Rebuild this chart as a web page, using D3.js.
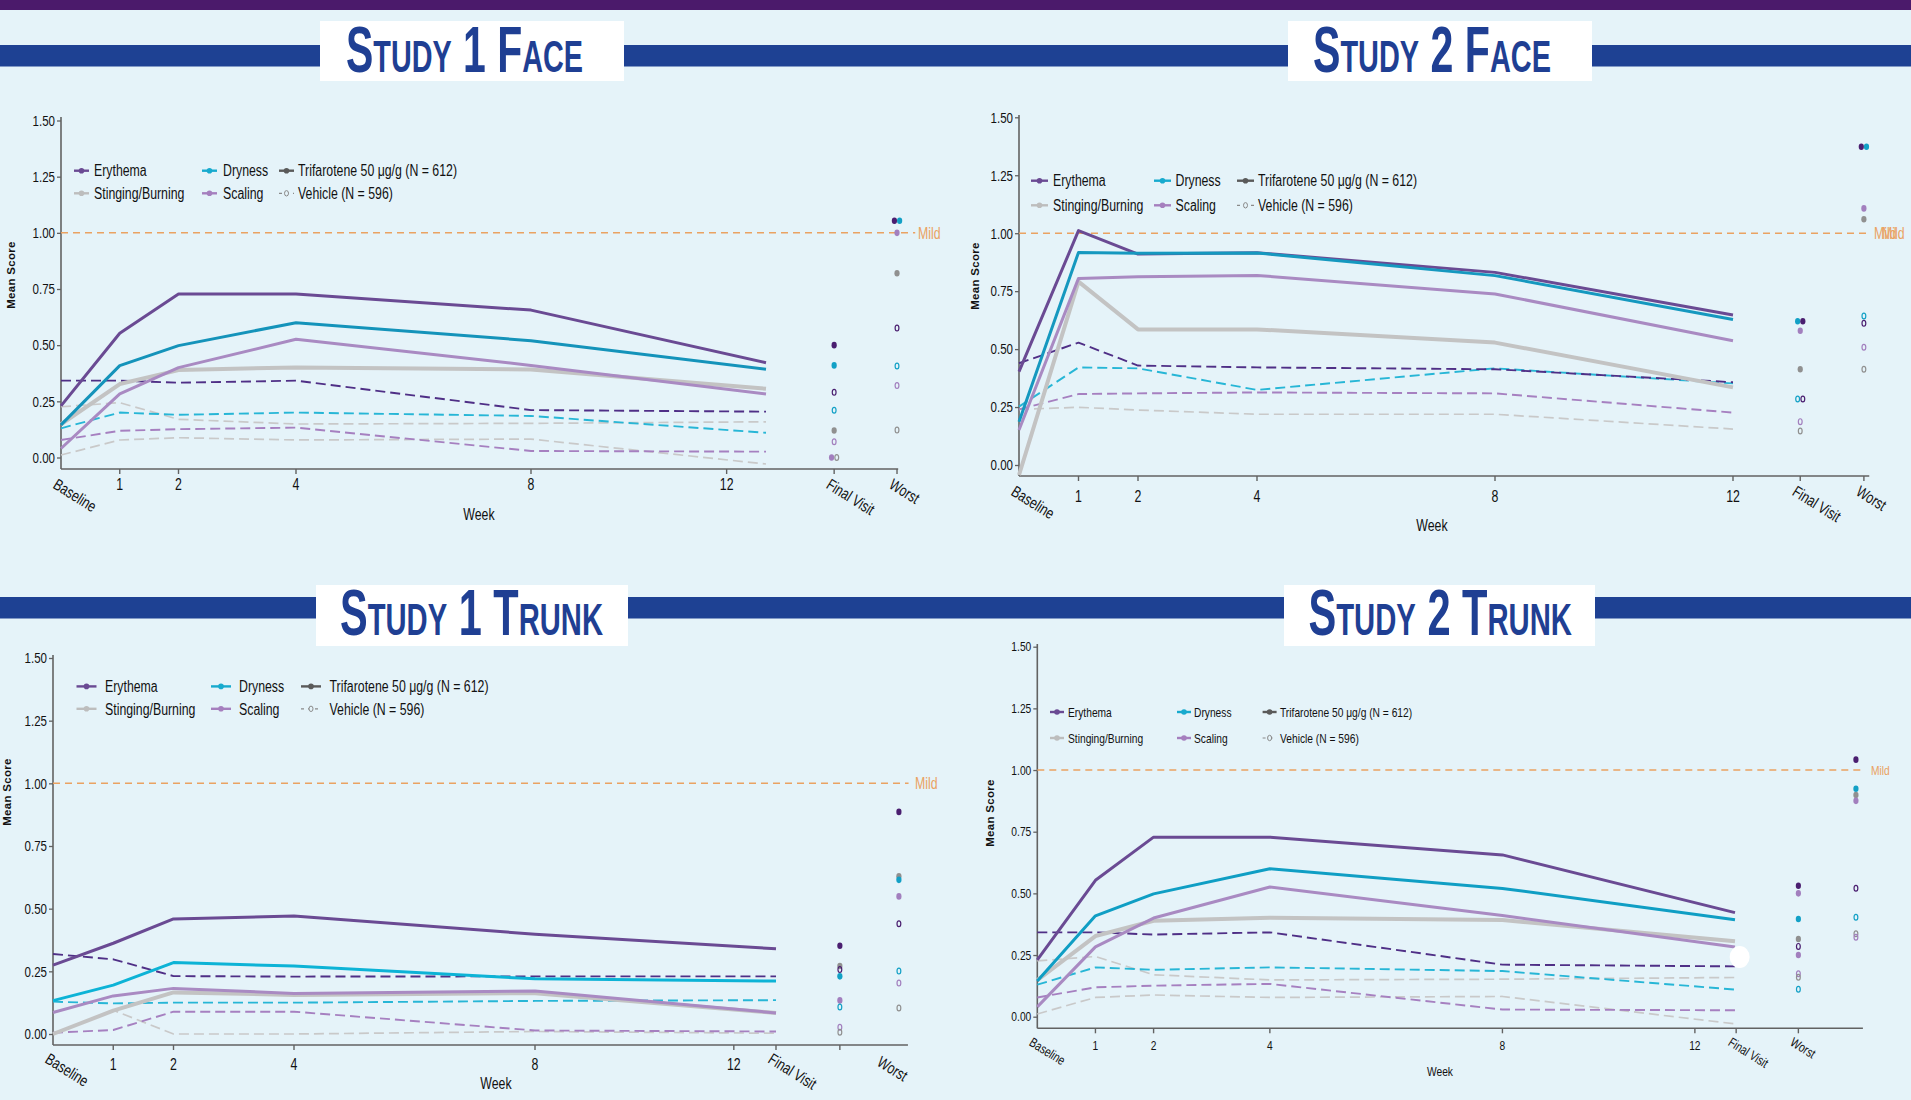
<!DOCTYPE html>
<html>
<head>
<meta charset="utf-8">
<title>Local tolerability</title>
<script src="https://cdn.jsdelivr.net/npm/d3@7"></script>
<style>
  body { margin: 0; background: #e5f3f9; }
  svg { display: block; }
  text { font-family: "Liberation Sans", Arial, sans-serif; fill: #111; }
</style>
</head>
<body>
<svg id="chart" width="1911" height="1100"></svg>
<script>
// ---- data ----
var weeks = [0, 1, 2, 4, 8, 12];
var yTicks = [0, 0.25, 0.5, 0.75, 1, 1.25, 1.5];

// Study 1 Face (the Study 2 Trunk panel repeats the same curves)
var triErythemaA = [0.23, 0.553, 0.728, 0.728, 0.656, 0.422];
var triStingingA = [0.148, 0.327, 0.389, 0.401, 0.392, 0.306];
var triDrynessA  = [0.145, 0.409, 0.498, 0.600, 0.520, 0.393];
var triScalingA  = [0.040, 0.283, 0.400, 0.526, 0.410, 0.283];
var vehErythemaA = [0.342, 0.342, 0.333, 0.342, 0.211, 0.204];
var vehStingingA = [0.226, 0.244, 0.170, 0.149, 0.152, 0.159];
var vehDrynessA  = [0.130, 0.200, 0.190, 0.200, 0.185, 0.110];
var vehScalingA  = [0.078, 0.119, 0.126, 0.133, 0.029, 0.026];
var vehGreyLowA  = [0.011, 0.078, 0.088, 0.078, 0.082, -0.029];

// Study 2 Face
var triErythemaB = [0.403, 1.011, 0.910, 0.916, 0.831, 0.647];
var triStingingB = [-0.043, 0.791, 0.585, 0.585, 0.528, 0.335];
var triDrynessB  = [0.187, 0.917, 0.913, 0.915, 0.817, 0.628];
var triScalingB  = [0.151, 0.805, 0.812, 0.818, 0.738, 0.536];
var vehErythemaB = [0.439, 0.528, 0.429, 0.421, 0.413, 0.357];
var vehStingingB = [0.240, 0.249, 0.237, 0.219, 0.219, 0.155];
var vehDrynessB  = [0.252, 0.421, 0.417, 0.324, 0.417, 0.352];
var vehScalingB  = [0.240, 0.306, 0.309, 0.313, 0.309, 0.226];

// Study 1 Trunk
var triErythemaC = [0.275, 0.362, 0.459, 0.471, 0.398, 0.340];
var triStingingC = [0.000, 0.093, 0.166, 0.156, 0.163, 0.084];
var triDrynessC  = [0.133, 0.195, 0.285, 0.271, 0.220, 0.211];
var triScalingC  = [0.086, 0.152, 0.182, 0.162, 0.172, 0.084];
var vehErythemaC = [0.319, 0.298, 0.231, 0.229, 0.230, 0.230];
var vehStingingC = [0.000, 0.095, 0.000, 0.000, 0.010, 0.003];
var vehDrynessC  = [0.129, 0.122, 0.125, 0.125, 0.132, 0.135];
var vehScalingC  = [0.005, 0.016, 0.089, 0.089, 0.014, 0.010];

// single-point columns: [category, arm (T = trifarotene, V = vehicle), mean score]
var s1fFinal = [["Erythema","T",0.50],["Dryness","T",0.41],["Erythema","V",0.29],["Dryness","V",0.21],
  ["Stinging/Burning","T",0.12],["Scaling","V",0.07],["Scaling","T",0.0],["Stinging/Burning","V",0.0]];
var s1fWorst = [["Erythema","T",1.054],["Dryness","T",1.054],["Scaling","T",1.0],["Stinging/Burning","T",0.82],
  ["Erythema","V",0.576],["Dryness","V",0.407],["Scaling","V",0.32],["Stinging/Burning","V",0.122]];
var s2fFinal = [["Dryness","T",0.62],["Erythema","T",0.62],["Scaling","T",0.579],["Stinging/Burning","T",0.413],
  ["Dryness","V",0.285],["Erythema","V",0.285],["Scaling","V",0.187],["Stinging/Burning","V",0.147]];
var s2fWorst = [["Erythema","T",1.373],["Dryness","T",1.373],["Scaling","T",1.107],["Stinging/Burning","T",1.06],
  ["Dryness","V",0.643],["Erythema","V",0.611],["Scaling","V",0.508],["Stinging/Burning","V",0.413]];
var s1tFinal = [["Erythema","T",0.352],["Stinging/Burning","T",0.271],["Erythema","V",0.257],["Dryness","T",0.23],
  ["Scaling","T",0.134],["Dryness","V",0.108],["Scaling","V",0.027],["Stinging/Burning","V",0.007]];
var s1tWorst = [["Erythema","T",0.886],["Stinging/Burning","T",0.629],["Dryness","T",0.615],["Scaling","T",0.549],
  ["Erythema","V",0.44],["Dryness","V",0.251],["Scaling","V",0.203],["Stinging/Burning","V",0.104]];
var s2tFirst = [["Erythema","T",0.531],["Scaling","T",0.50],["Dryness","T",0.396],["Stinging/Burning","T",0.315],
  ["Erythema","V",0.285],["Scaling","T",0.25],["Scaling","V",0.174],["Stinging/Burning","V",0.16],["Dryness","V",0.111]];
var s2tSecond = [["Erythema","T",1.042],["Dryness","T",0.924],["Stinging/Burning","T",0.899],["Scaling","T",0.875],
  ["Erythema","V",0.521],["Dryness","V",0.403],["Stinging/Burning","V",0.336],["Scaling","V",0.322]];

var linesA = [["Stinging/Burning","V",vehGreyLowA],["Stinging/Burning","V",vehStingingA],["Scaling","V",vehScalingA],
  ["Dryness","V",vehDrynessA],["Erythema","V",vehErythemaA],
  ["Stinging/Burning","T",triStingingA],["Scaling","T",triScalingA],["Erythema","T",triErythemaA],["Dryness","T",triDrynessA]];
var linesB = [["Stinging/Burning","V",vehStingingB],["Scaling","V",vehScalingB],["Dryness","V",vehDrynessB],["Erythema","V",vehErythemaB],
  ["Stinging/Burning","T",triStingingB],["Scaling","T",triScalingB],["Erythema","T",triErythemaB],["Dryness","T",triDrynessB]];
var linesC = [["Stinging/Burning","V",vehStingingC],["Scaling","V",vehScalingC],["Dryness","V",vehDrynessC],["Erythema","V",vehErythemaC],
  ["Stinging/Burning","T",triStingingC],["Scaling","T",triScalingC],["Dryness","T",triDrynessC],["Erythema","T",triErythemaC]];

// ---- styles ----
var triColor = { "Erythema": "#6a4a93", "Stinging/Burning": "#c3c3c3", "Dryness": "#1493ba", "Scaling": "#a98ac2" };
var vehColor = { "Erythema": "#4f2f86", "Stinging/Burning": "#c9c9c9", "Dryness": "#27b6d6", "Scaling": "#a680c0" };
var dotColor = { "Erythema": "#4a1e70", "Stinging/Burning": "#909090", "Dryness": "#12a0c6", "Scaling": "#a27fbe" };
var axisColor = "#626262";
var mildColor = "#eaa262";
var narrow = 0.77;   // squeeze factor that turns the regular face into a condensed one

function ticksStd(extra) {
  return [{w:0, label:"Baseline", rot:true, mark:false}, {w:1, label:"1"}, {w:2, label:"2"},
          {w:4, label:"4"}, {w:8, label:"8"}].concat(extra);
}

var panels = [
  { title:"Study 1 Face", box:[320,21,304,60], titleX:346, titleW:237, titleY:72,
    x0:61, x12:766, y0:457.5, y150:120.5, yTop:117, axisY:469, xEnd:14.25,
    mildEnd:14.54, mildText:[918], numDy:21, rotDy:18.5,
    ticks: ticksStd([{w:11.33,label:"12"},{w:13.16,label:"Final Visit",rot:true},{w:14.23,label:"Worst",rot:true}]),
    cols:[13.16,14.23], dots:[s1fFinal,s1fWorst], lines:linesA, dryColor:"#1493ba",
    legend:{rows:[170.7,193.3], markX:[74,202,279], textX:[94,223,298], len:15, font:16},
    yTitle:[11,275], week:[479,519.5], font:16, tickFont:15 },
  { title:"Study 2 Face", box:[1288,21,304,60], titleX:1313, titleW:238, titleY:72,
    x0:1019, x12:1733, y0:465, y150:117.3, yTop:115, axisY:476, xEnd:14.29,
    mildEnd:14.29, mildText:[1874,1882], numDy:25.5, rotDy:18.5,
    ticks: ticksStd([{w:12,label:"12"},{w:13.13,label:"Final Visit",rot:true},{w:14.2,label:"Worst",rot:true}]),
    cols:[13.13,14.2], dots:[s2fFinal,s2fWorst], lines:linesB, dryColor:"#1598bf",
    legend:{rows:[180.7,205.3], markX:[1031,1154,1237], textX:[1053,1175.5,1258], len:17, font:16},
    yTitle:[975,276], week:[1432,530.5], font:16, tickFont:15 },
  { title:"Study 1 Trunk", box:[316,585,312,61], titleX:340, titleW:263, titleY:635,
    x0:53, x12:776, y0:1034, y150:658, yTop:655, axisY:1045, xEnd:14.19,
    mildEnd:14.2, mildText:[915], numDy:24.6, rotDy:17,
    ticks: ticksStd([{w:11.3,label:"12"},{w:12,label:"Final Visit",rot:true},{w:13.06,label:""},
                     {w:13.81,label:"Worst",rot:true,mark:false,dy:3}]),
    cols:[13.06,14.04], dots:[s1tFinal,s1tWorst], lines:linesC, dryColor:"#0db3d6",
    legend:{rows:[686.4,708.8], markX:[76.5,211,301], textX:[105,239,329.5], len:20, font:16},
    yTitle:[7,792], week:[496,1088.5], font:16, tickFont:15 },
  { title:"Study 2 Trunk", box:[1284,585,311,61], titleX:1308.5, titleW:263.5, titleY:635,
    x0:1037.3, x12:1735, y0:1016.7, y150:646.7, yTop:644, axisY:1028.3, xEnd:14.2,
    mildEnd:14.2, mildText:[1871], numDy:21.4, rotDy:16.5,
    ticks: ticksStd([{w:11.31,label:"12"},{w:12.02,label:"Final Visit",rot:true},{w:13.09,label:"Worst",rot:true}]),
    cols:[13.09,14.08], dots:[s2tFirst,s2tSecond], lines:linesA, dryColor:"#0f9ec4",
    legend:{rows:[712,738], markX:[1050,1177,1262.6], textX:[1068,1194,1280], len:14, font:13.3},
    yTitle:[990,813], week:[1440,1075.5], font:13.3, tickFont:13.3, blob:[12.08,0.242] }
];

// ---- page furniture ----
var svg = d3.select("#chart");
svg.append("rect").attr("width", 1911).attr("height", 1100).attr("fill", "#e5f3f9");
svg.append("rect").attr("width", 1911).attr("height", 10).attr("fill", "#4b1a6b");
[45, 597].forEach(function(b) {
  svg.append("rect").attr("x", 0).attr("y", b).attr("width", 1911).attr("height", 21.5).attr("fill", "#1e4193");
});

panels.forEach(drawPanel);

// condense every label that the reference sets in a narrow face
svg.selectAll("text.cond").each(function() {
  var w = this.getComputedTextLength();
  if (w > 0) d3.select(this).attr("textLength", w * narrow).attr("lengthAdjust", "spacingAndGlyphs");
});

function drawPanel(p) {
  var g = svg.append("g");
  var x = d3.scaleLinear().domain([0, 12]).range([p.x0, p.x12]);
  var y = d3.scaleLinear().domain([0, 1.5]).range([p.y0, p.y150]);

  // title box
  g.append("rect").attr("x", p.box[0]).attr("y", p.box[1]).attr("width", p.box[2]).attr("height", p.box[3]).attr("fill", "#fff");
  var t = g.append("text").attr("x", p.titleX).attr("y", p.titleY)
    .attr("font-weight", "bold").style("fill", "#1f3f93")
    .attr("textLength", p.titleW).attr("lengthAdjust", "spacingAndGlyphs");
  p.title.split(" ").forEach(function(word, i) {
    t.append("tspan").attr("font-size", 64).text((i > 0 ? " " : "") + word[0].toUpperCase());
    if (word.length > 1) t.append("tspan").attr("font-size", 45).text(word.slice(1).toUpperCase());
  });

  // axes
  var yAx = g.append("g").attr("transform", "translate(" + p.x0 + ",0)")
    .call(d3.axisLeft(y).tickValues(yTicks).tickFormat(d3.format(".2f")).tickSize(4).tickPadding(2));
  yAx.select(".domain").remove();
  yAx.selectAll("line").attr("stroke", axisColor).attr("stroke-width", 1.3);
  yAx.selectAll("text").attr("font-size", p.tickFont).attr("font-family", null).style("fill", "#111")
    .classed("cond", true);

  g.append("line").attr("x1", p.x0).attr("x2", p.x0).attr("y1", p.yTop).attr("y2", p.axisY)
    .attr("stroke", axisColor).attr("stroke-width", 1.6);
  g.append("line").attr("x1", p.x0).attr("x2", x(p.xEnd)).attr("y1", p.axisY).attr("y2", p.axisY)
    .attr("stroke", axisColor).attr("stroke-width", 1.6);

  p.ticks.forEach(function(tk) {
    var tx = x(tk.w);
    if (tk.mark !== false) {
      g.append("line").attr("x1", tx).attr("x2", tx).attr("y1", p.axisY).attr("y2", p.axisY + 5)
        .attr("stroke", axisColor).attr("stroke-width", 1.4);
    }
    if (!tk.label) return;
    if (tk.rot) {
      g.append("text").attr("class", "cond").attr("font-size", p.font)
        .attr("transform", "translate(" + (tx - 9) + "," + (p.axisY + p.rotDy + (tk.dy || 0)) + ") rotate(32)")
        .text(tk.label);
    } else {
      g.append("text").attr("class", "cond").attr("x", tx).attr("y", p.axisY + p.numDy).attr("text-anchor", "middle")
        .attr("font-size", p.font).text(tk.label);
    }
  });

  g.append("text").attr("class", "cond").attr("x", p.week[0]).attr("y", p.week[1]).attr("text-anchor", "middle")
    .attr("font-size", p.font).text("Week");
  g.append("text").attr("transform", "translate(" + p.yTitle[0] + "," + p.yTitle[1] + ") rotate(-90)")
    .attr("text-anchor", "middle").attr("dy", "0.35em").attr("font-weight", "bold")
    .attr("font-size", 11.5).attr("letter-spacing", 0.3).text("Mean Score");

  // mild reference
  g.append("line").attr("x1", p.x0).attr("x2", x(p.mildEnd)).attr("y1", y(1)).attr("y2", y(1))
    .attr("stroke", mildColor).attr("stroke-width", 1.5).attr("stroke-dasharray", "7,5");
  p.mildText.forEach(function(mx) {
    g.append("text").attr("class", "cond").attr("x", mx).attr("y", y(1)).attr("dy", "0.36em").attr("font-size", p.font)
      .style("fill", mildColor).text("Mild");
  });

  // series
  var line = d3.line().x(function(d, i) { return x(weeks[i]); }).y(function(d) { return y(d); });
  p.lines.forEach(function(s) {
    var cat = s[0], arm = s[1];
    var col = arm === "T" ? (cat === "Dryness" ? p.dryColor : triColor[cat]) : vehColor[cat];
    var path = g.append("path").datum(s[2]).attr("d", line).attr("fill", "none")
      .attr("stroke", col).attr("stroke-linejoin", "round");
    if (arm === "T") {
      path.attr("stroke-width", cat === "Stinging/Burning" ? 4 : 3);
    } else {
      path.attr("stroke-width", cat === "Stinging/Burning" ? 1.7 : 1.9).attr("stroke-dasharray", "10,5");
    }
  });

  // final visit / worst columns
  p.cols.forEach(function(cw, ci) {
    var list = p.dots[ci].map(function(d) { return { cat: d[0], arm: d[1], cy: y(d[2]), dx: 0 }; });
    list.sort(function(a, b) { return a.cy - b.cy; });
    for (var i = 1; i < list.length; i++) {
      if (Math.abs(list[i].cy - list[i - 1].cy) < 2.5) { list[i - 1].dx = -2.6; list[i].dx = 2.6; }
    }
    list.forEach(function(d) {
      var e = g.append("ellipse").attr("cx", x(cw) + d.dx).attr("cy", d.cy);
      if (d.arm === "T") {
        e.attr("rx", 2.6).attr("ry", 3.3).attr("fill", dotColor[d.cat]);
      } else {
        e.attr("rx", 1.9).attr("ry", 2.9).attr("fill", "none").attr("stroke", dotColor[d.cat]).attr("stroke-width", 1.2);
      }
    });
  });

  if (p.blob) {
    g.append("ellipse").attr("cx", x(p.blob[0])).attr("cy", y(p.blob[1])).attr("rx", 10).attr("ry", 11).attr("fill", "#fff");
  }

  // legend
  var L = p.legend;
  var items = [
    [0, 0, "Erythema", triColor["Erythema"], "solid"],
    [0, 1, "Stinging/Burning", "#bdbdbd", "solid"],
    [1, 0, "Dryness", "#17aace", "solid"],
    [1, 1, "Scaling", "#a57fbe", "solid"],
    [2, 0, "Trifarotene 50 \u03bcg/g (N = 612)", "#5a5a5a", "solid"],
    [2, 1, "Vehicle (N = 596)", "#8a8a8a", "dash"]
  ];
  items.forEach(function(it) {
    var mx = L.markX[it[0]], my = L.rows[it[1]];
    if (it[4] === "solid") {
      g.append("line").attr("x1", mx).attr("x2", mx + L.len).attr("y1", my).attr("y2", my)
        .attr("stroke", it[3]).attr("stroke-width", 2.4);
      g.append("circle").attr("cx", mx + L.len / 2).attr("cy", my).attr("r", 2.8).attr("fill", it[3]);
    } else {
      g.append("line").attr("x1", mx).attr("x2", mx + L.len).attr("y1", my).attr("y2", my)
        .attr("stroke", it[3]).attr("stroke-width", 1.2).attr("stroke-dasharray", "3,4");
      g.append("ellipse").attr("cx", mx + L.len / 2).attr("cy", my).attr("rx", 2).attr("ry", 2.7)
        .attr("fill", "#e5f3f9").attr("stroke", it[3]).attr("stroke-width", 1);
    }
    g.append("text").attr("class", "cond").attr("x", L.textX[it[0]]).attr("y", my).attr("dy", "0.36em")
      .attr("font-size", L.font).text(it[2]);
  });
}
</script>
</body>
</html>
